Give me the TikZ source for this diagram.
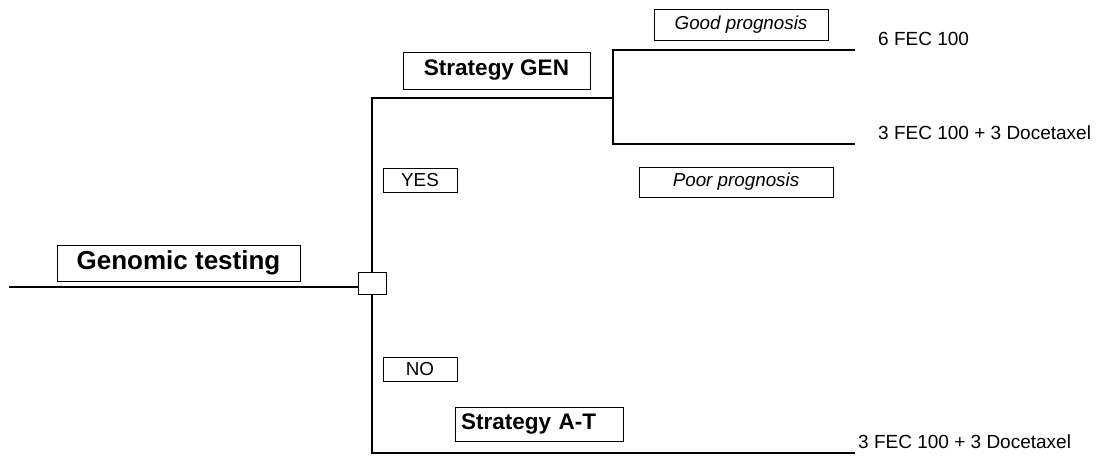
\documentclass[tikz,border=0pt]{standalone}
\usepackage{fontspec}
\setmainfont{Liberation Sans}
\usepackage{tikz}
\usetikzlibrary{positioning}

\begin{document}
\begin{tikzpicture}[x=1pt,y=-1pt,
    branch/.style={line width=2pt},
    tbox/.style={draw,line width=0.9pt,inner sep=0pt},
    big/.style={font=\fontsize{26}{30}\selectfont\bfseries},
    strat/.style={font=\fontsize{22.5}{26}\selectfont\bfseries},
    small/.style={font=\fontsize{18.8}{22}\selectfont},
    outcome/.style={font=\fontsize{19}{22}\selectfont,inner sep=0pt,anchor=west}]
    \useasboundingbox (0,0) rectangle (1097,457);
    % boxes
    \node[tbox,big,minimum width=243,minimum height=36] (genomic) at (178.5,263) {Genomic testing};
    \node[tbox,minimum width=28,minimum height=22] (chance) at (372,283) {};
    \node[tbox,strat,minimum width=187,minimum height=37] (gen) at (496.5,70.5) {Strategy GEN};
    \node[tbox,strat,text width=156,align=left,inner xsep=6pt,minimum height=34] (at) at (539,424) {Strategy A-T};
    \node[tbox,small,minimum width=74,minimum height=24] (yes) at (420,180) {YES};
    \node[tbox,small,minimum width=74,minimum height=24] (no) at (420,369) {NO};
    \node[tbox,small,minimum width=174,minimum height=31] (good) at (741,24.5) {\itshape Good prognosis};
    \node[tbox,small,minimum width=194,minimum height=30] (poor) at (736,182) {\itshape Poor prognosis};
    % tree
    \coordinate (start) at (9,287);
    \coordinate (genfork) at (613,98);
    \coordinate (goodfork) at (613,50);
    \coordinate (poorfork) at (613,144);
    \coordinate (goodend) at (855,50);
    \coordinate (poorend) at (855,144);
    \coordinate (atend) at (855,453);
    \draw[branch] (start) -- (start -| chance.west);
    \draw[branch] (chance.north) |- (genfork);
    \draw[branch] (goodend) -- (goodfork) -- (poorfork) -- (poorend);
    \draw[branch] (chance.south) |- (atend);
    % outcomes
    \node[outcome] (fec) at (878,39) {6 FEC 100};
    \node[outcome] (fecdoc) at (878,133) {3 FEC 100 + 3 Docetaxel};
    \node[outcome] (atdoc) at (858,442) {3 FEC 100 + 3 Docetaxel};
\end{tikzpicture}
\end{document}
